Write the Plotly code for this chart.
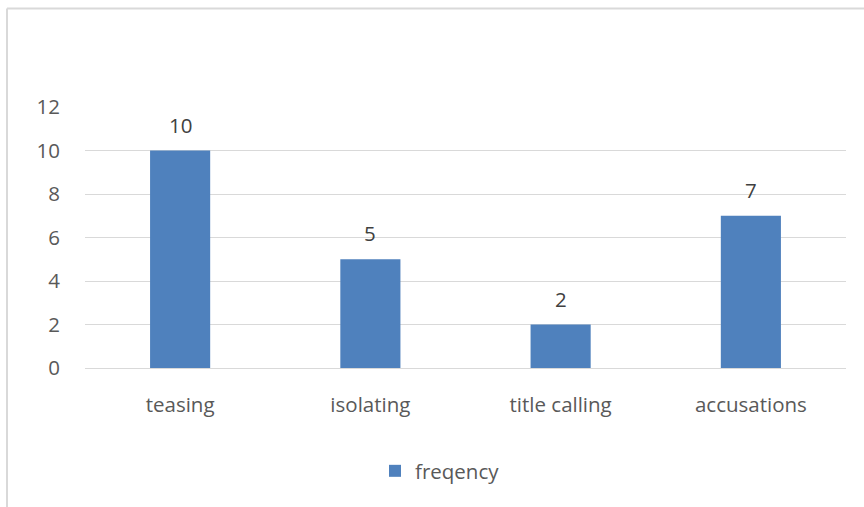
import plotly.graph_objects as go

# Bullying forms and how often each was reported
categories = ["teasing", "isolating", "title calling", "accusations"]
freqency = [10, 5, 2, 7]
y_ticks = [0, 2, 4, 6, 8, 10, 12]

W, H = 864, 507
ML, MR, MT, MB = 85, 18, 107, 139
plot_w = W - ML - MR
plot_h = H - MT - MB

font_family = "'Open Sans', sans-serif"
font_size = 20.5
text_color = "#595959"
grid_color = "#D9D9D9"
bar_color = "#4F81BD"

fig = go.Figure()
fig.add_trace(go.Bar(
    x=categories,
    y=freqency,
    name="freqency",
    marker=dict(color=bar_color, line=dict(width=0)),
))

# Value labels above each bar
for cat, val in zip(categories, freqency):
    fig.add_annotation(
        x=cat, y=val, text=str(val),
        showarrow=False, yanchor="bottom", yshift=10,
        font=dict(family=font_family, size=font_size, color="#404040"),
    )

# Light chart-area frame (left and top edges visible)
fx0 = (7 - ML) / plot_w
fy1 = 1 + (MT - 8.5) / plot_h
fy0 = -(MB + 20) / plot_h
fig.add_shape(type="line", xref="paper", yref="paper",
              x0=fx0, x1=fx0, y0=fy0, y1=fy1,
              line=dict(color=grid_color, width=2))
fig.add_shape(type="line", xref="paper", yref="paper",
              x0=fx0, x1=1 + (MR + 20) / plot_w, y0=fy1, y1=fy1,
              line=dict(color=grid_color, width=2))

fig.update_layout(
    width=W, height=H,
    margin=dict(l=ML, r=MR, t=MT, b=MB),
    paper_bgcolor="white",
    plot_bgcolor="white",
    bargap=0.684,
    showlegend=True,
    legend=dict(
        orientation="h",
        x=(440 - ML) / plot_w,
        xanchor="center",
        y=-(471 - MT - plot_h) / plot_h,
        yanchor="middle",
        font=dict(family=font_family, size=font_size, color=text_color),
        itemwidth=30,
    ),
    xaxis=dict(
        showgrid=False,
        showline=False,
        ticks="",
        tickfont=dict(family=font_family, size=font_size, color=text_color),
        ticklabelstandoff=22,
    ),
    yaxis=dict(
        range=[0, 12],
        tickvals=y_ticks,
        showgrid=True,
        gridcolor=grid_color,
        gridwidth=1,
        zeroline=True,
        zerolinecolor=grid_color,
        zerolinewidth=1,
        showline=False,
        ticks="",
        tickfont=dict(family=font_family, size=font_size, color=text_color),
        ticklabelstandoff=24,
    ),
)

fig.write_html("out.html")
